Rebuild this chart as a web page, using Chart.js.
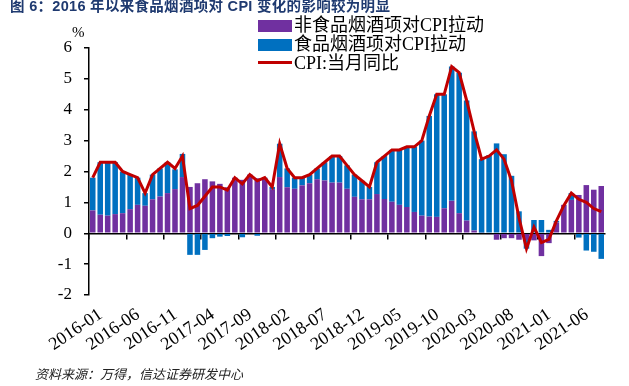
<!DOCTYPE html>
<html>
<head>
<meta charset="utf-8">
<script src="https://cdn.jsdelivr.net/npm/chart.js@4.4.0/dist/chart.umd.min.js"></script>
<style>
body { margin: 0; background: #fff; }
#wrap { position: relative; width: 629px; height: 386px; overflow: hidden; }
#myChart { position: absolute; left: 0; top: 0; }
.title { position: absolute; left: 10px; top: -1px; font: bold 14.5px "Liberation Sans", "Noto Sans CJK SC", sans-serif; line-height: 15px; letter-spacing: 0.3px; color: #1f3a70; white-space: nowrap; }
.unit { position: absolute; left: 72px; top: 24px; font: 15px "Liberation Serif", serif; color: #000; }
.lg { position: absolute; left: 258px; font: 18px "Liberation Serif", "Noto Sans CJK SC", serif; color: #000; white-space: nowrap; line-height: 19px; }
.lg span.box { display: inline-block; width: 34px; height: 12px; vertical-align: -1px; margin-right: 2px; }
.lg span.ln { display: inline-block; width: 34px; height: 3px; background: #c00000; vertical-align: 5px; margin-right: 2px; }
.src { position: absolute; left: 35px; top: 364px; font: italic 13px "Noto Sans CJK SC", sans-serif; color: #222; white-space: nowrap; }
</style>
</head>
<body>
<div id="wrap">
<canvas id="myChart" width="629" height="386"></canvas>
<div class="title">图 6：2016 年以来食品烟酒项对 CPI 变化的影响较为明显</div>
<div class="unit">%</div>
<div class="lg" style="top:16px"><span class="box" style="background:#7030a0"></span>非食品烟酒项对CPI拉动</div>
<div class="lg" style="top:35px"><span class="box" style="background:#0070c0"></span>食品烟酒项对CPI拉动</div>
<div class="lg" style="top:54px"><span class="ln"></span>CPI:当月同比</div>
<div class="src">资料来源：万得，信达证券研发中心</div>
</div>
<script>
// months
const months = [
  "2016-01","2016-02","2016-03","2016-04","2016-05","2016-06","2016-07","2016-08","2016-09","2016-10","2016-11","2016-12",
  "2017-01","2017-02","2017-03","2017-04","2017-05","2017-06","2017-07","2017-08","2017-09","2017-10","2017-11","2017-12",
  "2018-01","2018-02","2018-03","2018-04","2018-05","2018-06","2018-07","2018-08","2018-09","2018-10","2018-11","2018-12",
  "2019-01","2019-02","2019-03","2019-04","2019-05","2019-06","2019-07","2019-08","2019-09","2019-10","2019-11","2019-12",
  "2020-01","2020-02","2020-03","2020-04","2020-05","2020-06","2020-07","2020-08","2020-09","2020-10","2020-11","2020-12",
  "2021-01","2021-02","2021-03","2021-04","2021-05","2021-06","2021-07","2021-08","2021-09"
];

// 非食品烟酒项对CPI拉动
const nonFood = [
  0.74, 0.60, 0.57, 0.62, 0.65, 0.78, 0.92, 0.89, 1.10, 1.19, 1.30, 1.43,
  1.82, 1.50, 1.62, 1.75, 1.68, 1.60, 1.49, 1.80, 1.73, 1.90, 1.78, 1.79,
  1.43, 1.82, 1.49, 1.44, 1.55, 1.62, 1.75, 1.71, 1.64, 1.64, 1.44, 1.18,
  1.10, 1.10, 1.27, 1.11, 1.02, 0.92, 0.85, 0.69, 0.57, 0.54, 0.53, 0.81,
  1.05, 0.65, 0.41, 0.09, 0.02, -0.03, -0.21, -0.16, -0.16, -0.21, -0.22, -0.23,
  -0.74, -0.32, 0.35, 0.92, 1.08, 1.24, 1.56, 1.41, 1.53
];

// 食品烟酒项对CPI拉动
const food = [
  1.06, 1.70, 1.73, 1.68, 1.35, 1.12, 0.88, 0.41, 0.80, 0.91, 1.00, 0.64,
  0.75, -0.70, -0.70, -0.54, -0.16, -0.11, -0.09, 0.00, -0.13, 0.00, -0.08, 0.01,
  0.07, 1.08, 0.61, 0.36, 0.25, 0.28, 0.35, 0.59, 0.86, 0.86, 0.76, 0.72,
  0.60, 0.40, 1.03, 1.39, 1.68, 1.78, 1.95, 2.11, 2.43, 3.26, 3.97, 3.69,
  4.35, 4.55, 3.89, 3.21, 2.38, 2.53, 2.91, 2.56, 1.86, 0.71, -0.28, 0.43,
  0.43, 0.11, 0.05, 0.00, 0.22, -0.14, -0.56, -0.60, -0.83
];

// CPI:当月同比
const cpi = [
  1.8, 2.3, 2.3, 2.3, 2.0, 1.9, 1.8, 1.3, 1.9, 2.1, 2.3, 2.1,
  2.5, 0.8, 0.9, 1.2, 1.5, 1.5, 1.4, 1.8, 1.6, 1.9, 1.7, 1.8,
  1.5, 2.9, 2.1, 1.8, 1.8, 1.9, 2.1, 2.3, 2.5, 2.5, 2.2, 1.9,
  1.7, 1.5, 2.3, 2.5, 2.7, 2.7, 2.8, 2.8, 3.0, 3.8, 4.5, 4.5,
  5.4, 5.2, 4.3, 3.3, 2.4, 2.5, 2.7, 2.4, 1.7, 0.5, -0.5, 0.2,
  -0.3, -0.2, 0.4, 0.9, 1.3, 1.1, 1.0, 0.8, 0.7
];

const yTicks = [-2, -1, 0, 1, 2, 3, 4, 5, 6];

Chart.defaults.font.family = "'Liberation Serif', 'Times New Roman', serif";
Chart.defaults.color = '#000';

const data = {
  labels: months,
  datasets: [
    {
      type: 'line',
      label: 'CPI:当月同比',
      data: cpi,
      borderColor: '#c00000',
      borderWidth: 3,
      pointRadius: 0,
      tension: 0,
      stack: 'line',
      order: 0
    },
    {
      type: 'bar',
      label: '非食品烟酒项对CPI拉动',
      data: nonFood,
      backgroundColor: '#7030a0',
      barPercentage: 0.74,
      categoryPercentage: 1,
      stack: 'bars',
      order: 1
    },
    {
      type: 'bar',
      label: '食品烟酒项对CPI拉动',
      data: food,
      backgroundColor: '#0070c0',
      barPercentage: 0.74,
      categoryPercentage: 1,
      stack: 'bars',
      order: 1
    }
  ]
};

const config = {
  type: 'bar',
  data: data,
  options: {
    responsive: false,
    animation: false,
    layout: { padding: { left: 0, right: 24, top: 48, bottom: 0 } },
    plugins: {
      legend: { display: false },
      title: { display: false },
      tooltip: { enabled: false }
    },
    scales: {
      x: {
        stacked: true,
        offset: true,
        grid: { display: false },
        border: { display: false },
        ticks: {
          autoSkip: false,
          minRotation: 34,
          maxRotation: 34,
          padding: 1,
          labelOffset: 8,
          color: '#000',
          font: { size: 18 },
          callback: function(val, i) { return i % 5 === 0 ? months[i] : ''; }
        },
        afterFit: function(s) { s.height = 91; }
      },
      x2: {
        type: 'category',
        axis: 'x',
        labels: months,
        offset: true,
        position: { y: 0 },
        z: 1,
        ticks: { display: false },
        border: { color: '#000', width: 1.5 },
        grid: {
          offset: true,
          drawOnChartArea: false,
          drawTicks: true,
          tickLength: 5,
          lineWidth: 1.5,
          color: function(ctx) { return ctx.index % 5 === 0 ? '#000' : 'rgba(0,0,0,0)'; }
        }
      },
      y: {
        stacked: true,
        min: -2,
        max: 6,
        afterBuildTicks: function(s) { s.ticks = yTicks.map(v => ({ value: v })); },
        border: { color: '#000', width: 1.5 },
        grid: { drawOnChartArea: false, drawTicks: true, tickLength: 5, color: '#000', lineWidth: 1.5 },
        ticks: {
          color: '#000',
          padding: 12,
          font: { size: 17 }
        },
        afterFit: function(s) { s.width = 89; }
      }
    }
  }
};

const myChart = new Chart(document.getElementById('myChart'), config);
</script>
</body>
</html>
